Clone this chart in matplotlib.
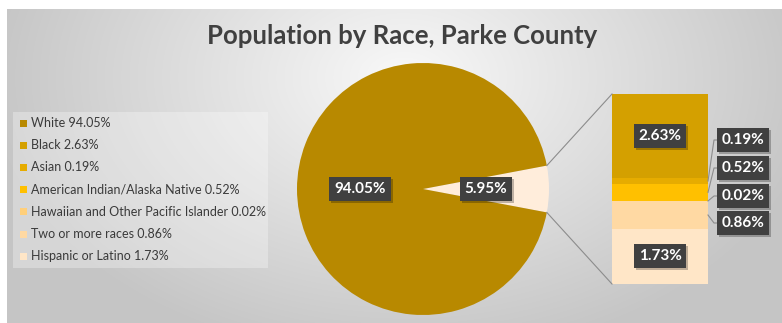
import numpy as np
import matplotlib
matplotlib.use("Agg")
import matplotlib.pyplot as plt

plt.rcParams['font.family'] = ['Lato', 'DejaVu Sans']

W, H = 782, 323

# --- data ---
races = ['White', 'Black', 'Asian', 'American Indian/Alaska Native',
         'Hawaiian and Other Pacific Islander', 'Two or more races', 'Hispanic or Latino']
shares = [94.05, 2.63, 0.19, 0.52, 0.02, 0.86, 1.73]
colors = ['#B88900', '#D4A000', '#E6AC00', '#FFC000', '#FFCF7A', '#FFD9A3', '#FFE6C7']
other_color = '#FFEDDB'

main_share = shares[0]
other_share = round(sum(shares[1:]), 2)

fig = plt.figure(figsize=(W / 100, H / 100), dpi=100)
fig.patch.set_facecolor('white')

# background with soft radial gradient
bg = fig.add_axes([0, 0, 1, 1])
bg.set_xlim(0, W)
bg.set_ylim(H, 0)
bg.axis('off')
yy, xx = np.mgrid[0:H, 0:W]
d = np.sqrt(((xx - 400) / 420.0) ** 2 + ((yy - 70) / 290.0) ** 2)
shade = 0.975 - 0.2 * np.clip(d, 0, 1)
bg.imshow(np.dstack([shade] * 3), extent=[7, W, H, 9], zorder=0, aspect='auto')


def px_axes(x0, y0, x1, y1):
    return fig.add_axes([x0 / W, 1 - y1 / H, (x1 - x0) / W, (y1 - y0) / H])


# pie of White vs everyone else
cx, cy, r = 423, 189, 126
pie_ax = px_axes(cx - r, cy - r, cx + r, cy + r)
half = other_share / 100 * 360 / 2
pie_ax.pie([other_share, main_share], colors=[other_color, colors[0]],
           startangle=-half, counterclock=True, radius=1,
           wedgeprops=dict(linewidth=0))
pie_ax.set_xlim(-1, 1)
pie_ax.set_ylim(-1, 1)
pie_ax.axis('off')

# stacked bar breaking down the small slice
bx0, by0, bx1, by1 = 612, 94, 708, 284
bar_ax = px_axes(bx0, by0, bx1, by1)
order = [6, 5, 4, 3, 2, 1]  # bottom to top
bottom = 0
seg_mid = {}
for i in order:
    bar_ax.bar(0, shares[i], bottom=bottom, width=1, color=colors[i], linewidth=0)
    seg_mid[i] = bottom + shares[i] / 2
    bottom += shares[i]
bar_ax.set_xlim(-0.5, 0.5)
bar_ax.set_ylim(0, other_share)
bar_ax.axis('off')

# overlay for text and connectors
ov = fig.add_axes([0, 0, 1, 1])
ov.set_xlim(0, W)
ov.set_ylim(H, 0)
ov.axis('off')
ov.patch.set_alpha(0)

ov.text(402, 36, 'Population by Race, Parke County', ha='center', va='center',
        fontsize=18.5, fontweight='bold', color='#404040')

# connectors from pie slice to bar
t = np.radians(half)
ex, ey = cx + r * np.cos(t), r * np.sin(t)
ov.plot([ex, bx0], [cy - ey, by0], color='#8c8c8c', lw=0.8)
ov.plot([ex, bx0], [cy + ey, by1], color='#8c8c8c', lw=0.8)

tags = []


def tag(x, y, s):
    box = dict(boxstyle='square,pad=0.32', facecolor='#404040', edgecolor='none')
    tags.append(ov.text(x, y, s, ha='center', va='center', fontsize=11,
                        fontweight='bold', color='white', bbox=box, zorder=5))


tag(360, 189, f'{main_share:.2f}%')
tag(486, 189, f'{other_share:.2f}%')


def bar_y(v):
    return by1 - v / other_share * (by1 - by0)


tag(660, bar_y(seg_mid[1]), f'{shares[1]:.2f}%')
tag(660, bar_y(seg_mid[6]), f'{shares[6]:.2f}%')

# small segments labelled to the right with leader lines
side_y = [140, 168, 196, 223]
for i, ly in zip([2, 3, 4, 5], side_y):
    sy = bar_y(seg_mid[i])
    ov.plot([bx1, 714, 719], [sy, ly, ly], color='#8c8c8c', lw=0.8)
    tag(743, ly, f'{shares[i]:.2f}%')

# legend
ov.add_patch(plt.Rectangle((13, 112), 255, 156, facecolor='white', alpha=0.3,
                           edgecolor='none'))
for k, (name, v, c) in enumerate(zip(races, shares, colors)):
    ly = 123 + k * 22.2
    ov.add_patch(plt.Rectangle((19.5, ly - 3.5), 7, 7, facecolor=c, edgecolor='none'))
    ov.text(31, ly, f'{name} {v:.2f}%', ha='left', va='center', fontsize=9,
            color='#3a3a3a')

# soft drop shadow under each label box
fig.canvas.draw()
inv = ov.transData.inverted()
for txt in tags:
    bb = txt.get_bbox_patch().get_window_extent()
    (x0, y0), (x1, y1) = inv.transform([[bb.x0, bb.y0], [bb.x1, bb.y1]])
    ov.add_patch(plt.Rectangle((x0 + 2, y1 + 2), x1 - x0, y0 - y1,
                               facecolor='black', alpha=0.25, edgecolor='none', zorder=4))

fig.savefig('out.png', dpi=100)
